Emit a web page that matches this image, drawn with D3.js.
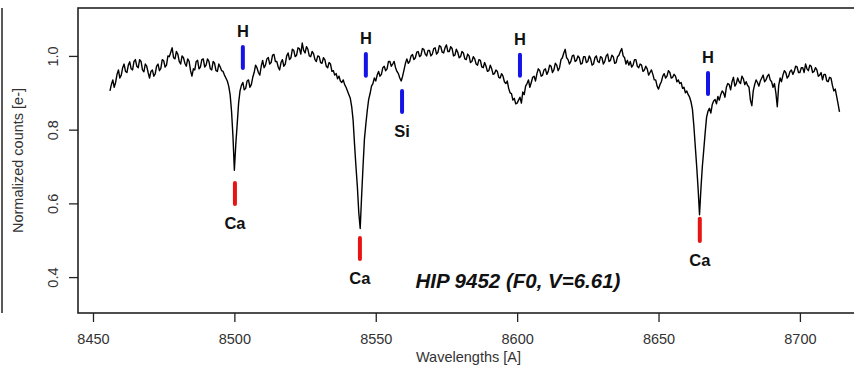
<!DOCTYPE html>
<html>
<head>
	<title></title>
	<script src="https://d3js.org/d3.v7.min.js"></script>
	<style>
		body { margin: 0; background: #fff; }
		text { font-family: "Liberation Sans", Arial, sans-serif; }
		.axis .domain { display: none; }
		.axis line { stroke: #222; stroke-width: 1.3; }
		.axis text { font-size: 14.5px; fill: #333; }
		.lbl { font-size: 16.5px; font-weight: bold; fill: #111; }
	</style>
</head>
<body>
	<svg width="854" height="368"></svg>
<script type="text/javascript">

	// flux sampled every 0.5 A from 8456 A (one row = 5 A)
	var waveStart = 8456, waveStep = 0.5;
	var flux = [
		.905, .922, .935, .915, .928, .950, .962, .940, .948, .968,   // 8456
		.978, .958, .955, .975, .984, .965, .962, .985, .990, .972,   // 8461
		.968, .990, .985, .962, .957, .978, .972, .955, .940, .958,   // 8466
		.962, .945, .951, .972, .978, .960, .966, .990, .987, .970,   // 8471
		.975, 1.000, .998, 1.010, 1.022, .995, .992, 1.012, 1.005, .985, // 8476
		.978, 1.000, .995, .980, .972, .992, .985, .960, .945, .965,  // 8481
		.962, .985, .988, .965, .970, .990, .992, .970, .975, .992,   // 8486
		.985, .965, .962, .985, .980, .960, .958, .978, .970, .960,   // 8491
		.958, .948, .940, .932, .918, .895, .850, .782, .690, .760,   // 8496
		.815, .872, .905, .920, .928, .908, .912, .932, .935, .915,   // 8501
		.922, .942, .955, .975, .968, .955, .948, .972, .988, .968,   // 8506
		.975, .992, .996, .978, .982, 1.002, 1.004, .985, .985, .970, // 8511
		.962, .982, .990, .972, .978, 1.000, 1.008, .990, .995, 1.018, // 8516
		1.015, .998, 1.002, 1.022, 1.020, 1.005, 1.035, 1.015, 1.008, 1.025, // 8521
		1.018, 1.000, .998, 1.012, 1.006, .990, .985, 1.000, .998, .982, // 8526
		.980, .995, .990, .972, .968, .982, .978, .958, .960, .948,   // 8531
		.952, .938, .945, .932, .928, .935, .922, .915, .905, .895,   // 8536
		.885, .862, .825, .760, .700, .645, .575, .532, .620, .700,   // 8541
		.775, .815, .852, .882, .898, .918, .925, .940, .932, .948,   // 8546
		.958, .945, .950, .968, .972, .960, .965, .985, .985, .972,   // 8551
		.978, .985, .968, .958, .952, .940, .932, .945, .962, .980,   // 8556
		.992, .980, .985, 1.000, 1.004, .990, .995, 1.010, 1.012, .998, // 8561
		1.002, 1.020, 1.018, 1.005, 1.000, 1.015, 1.015, 1.000, 1.005, 1.020, // 8566
		1.022, 1.005, 1.010, 1.028, 1.025, 1.010, 1.008, 1.022, 1.030, 1.012, // 8571
		1.012, 1.025, 1.020, 1.000, 1.002, 1.018, 1.010, .995, .998, 1.012, // 8576
		1.008, .992, .990, 1.005, 1.000, .982, .985, .998, .992, .978, // 8581
		.975, .990, .988, .970, .968, .982, .972, .958, .960, .975,   // 8586
		.965, .950, .952, .962, .958, .942, .940, .952, .945, .930,   // 8591
		.925, .932, .912, .900, .898, .880, .885, .870, .872, .880,   // 8596
		.888, .872, .902, .895, .918, .925, .935, .915, .928, .942,   // 8601
		.945, .932, .952, .965, .960, .945, .948, .962, .965, .950,   // 8606
		.958, .975, .972, .955, .962, .980, .975, .960, .968, .990,   // 8611
		.995, 1.008, 1.018, .995, .990, .978, .985, 1.000, 1.002, .985, // 8616
		.988, 1.000, .995, .978, .980, .998, .998, .982, .985, 1.000, // 8621
		.992, .975, .978, .995, 1.000, .985, .982, .998, .995, .978,  // 8626
		.985, 1.000, 1.005, .985, .988, 1.002, .998, .980, .982, .998, // 8631
		1.002, 1.012, 1.020, 1.000, .995, .978, .988, .975, .985, .970, // 8636
		.975, .990, .990, .972, .968, .978, .975, .958, .962, .972,   // 8641
		.965, .948, .955, .962, .950, .935, .935, .918, .910, .922,   // 8646
		.930, .945, .952, .940, .945, .960, .955, .940, .942, .950,   // 8651
		.945, .930, .935, .925, .928, .912, .915, .900, .905, .895,   // 8656
		.888, .875, .855, .810, .755, .700, .640, .569, .640, .700,   // 8661
		.745, .792, .834, .850, .858, .845, .868, .878, .882, .870,   // 8666
		.890, .880, .895, .905, .900, .888, .915, .925, .922, .908,   // 8671
		.930, .942, .918, .925, .940, .930, .925, .945, .938, .922,   // 8676
		.930, .920, .915, .880, .865, .905, .922, .935, .928, .918,   // 8681
		.932, .940, .948, .930, .935, .945, .950, .935, .930, .915,   // 8686
		.925, .900, .862, .920, .940, .930, .948, .960, .955, .940,   // 8691
		.945, .958, .962, .950, .958, .972, .970, .955, .955, .968,   // 8696
		.968, .955, .978, .965, .960, .975, .972, .955, .958, .968,   // 8701
		.962, .945, .948, .955, .935, .950, .950, .932, .930, .942,   // 8706
		.940, .920, .905, .910, .890, .870, .848                      // 8711
	];

	// line markers: element, wavelength, bar bottom, bar top
	var lineNames = ["H", "H", "H", "H", "Si", "Ca", "Ca", "Ca"];
	var lineWaves = [8503.0, 8546.5, 8601.0, 8667.5, 8559.3, 8500.2, 8544.4, 8664.6];
	var barLow    = [0.967, 0.946, 0.946, 0.897, 0.848, 0.598, 0.449, 0.498];
	var barHigh   = [1.024, 1.005, 1.003, 0.954, 0.905, 0.655, 0.506, 0.558];

	var xTicks = [8450, 8500, 8550, 8600, 8650, 8700];
	var yTicks = [0.4, 0.6, 0.8, 1.0];
	var title = "HIP 9452 (F0, V=6.61)";

	var spec = flux.map(function (f, i) { return {w: waveStart + i * waveStep, f: f}; });

	var svg = d3.select("svg"),
		pLeft = 78, pTop = 8, pRight = 859, pBottom = 313;

	var x = d3.scaleLinear().domain([8444.7, 8720.9]).range([pLeft, pRight]);
	var y = d3.scaleLinear().domain([0.3026, 1.130]).range([pBottom, pTop]);

	// edge of the neighbouring panel
	svg.append("line")
		.attr("x1", 2).attr("x2", 2).attr("y1", pTop).attr("y2", pBottom)
		.attr("stroke", "#222").attr("stroke-width", 1.5);

	svg.append("rect")
		.attr("x", pLeft).attr("y", pTop)
		.attr("width", pRight - pLeft).attr("height", pBottom - pTop)
		.attr("fill", "none").attr("stroke", "#222").attr("stroke-width", 1.6);

	svg.append("g")
		.attr("class", "axis")
		.attr("transform", "translate(0," + pBottom + ")")
		.call(d3.axisBottom(x).tickValues(xTicks).tickSize(9).tickPadding(12).tickFormat(d3.format("d")));

	var yAxis = svg.append("g")
		.attr("class", "axis")
		.attr("transform", "translate(" + pLeft + ",0)")
		.call(d3.axisLeft(y).tickValues(yTicks).tickSize(9).tickFormat(d3.format(".1f")));

	yAxis.selectAll(".tick text")
		.attr("transform", "rotate(-90)")
		.attr("x", 0).attr("y", -20).attr("dy", 0)
		.attr("text-anchor", "middle");

	svg.append("text")
		.attr("x", (pLeft + pRight) / 2).attr("y", 362)
		.attr("text-anchor", "middle")
		.attr("font-size", 14.5).attr("fill", "#333")
		.text("Wavelengths [A]");

	svg.append("text")
		.attr("transform", "translate(23," + ((pTop + pBottom) / 2) + ") rotate(-90)")
		.attr("text-anchor", "middle")
		.attr("font-size", 14.5).attr("fill", "#333")
		.text("Normalized counts [e-]");

	var line = d3.line()
		.x(function (d) { return x(d.w); })
		.y(function (d) { return y(d.f); });

	svg.append("path")
		.datum(spec)
		.attr("d", line)
		.attr("fill", "none")
		.attr("stroke", "#000")
		.attr("stroke-width", 1.4)
		.attr("stroke-linejoin", "round");

	var marks = lineNames.map(function (n, i) {
		return {name: n, w: lineWaves[i], lo: barLow[i], hi: barHigh[i]};
	});

	var mk = svg.append("g").selectAll("g")
		.data(marks)
		.enter().append("g");

	mk.append("line")
		.attr("x1", function (d) { return x(d.w); })
		.attr("x2", function (d) { return x(d.w); })
		.attr("y1", function (d) { return y(d.lo); })
		.attr("y2", function (d) { return y(d.hi); })
		.attr("stroke", function (d) { return d.name == "Ca" ? "#e81414" : "#1414e6"; })
		.attr("stroke-width", 4)
		.attr("stroke-linecap", "round");

	// H labels sit above the bar, Ca and Si below
	mk.append("text")
		.attr("class", "lbl")
		.attr("x", function (d) { return x(d.w); })
		.attr("y", function (d) { return d.name == "H" ? y(d.hi) - 16 : y(d.lo) + 19; })
		.attr("dy", "0.35em")
		.attr("text-anchor", "middle")
		.text(function (d) { return d.name; });

	svg.append("text")
		.attr("x", x(8600.3)).attr("y", y(0.39))
		.attr("dy", "0.35em")
		.attr("text-anchor", "middle")
		.attr("font-size", 20.5)
		.attr("font-weight", "bold")
		.attr("font-style", "italic")
		.attr("fill", "#111")
		.text(title);

</script>
</body>
</html>
